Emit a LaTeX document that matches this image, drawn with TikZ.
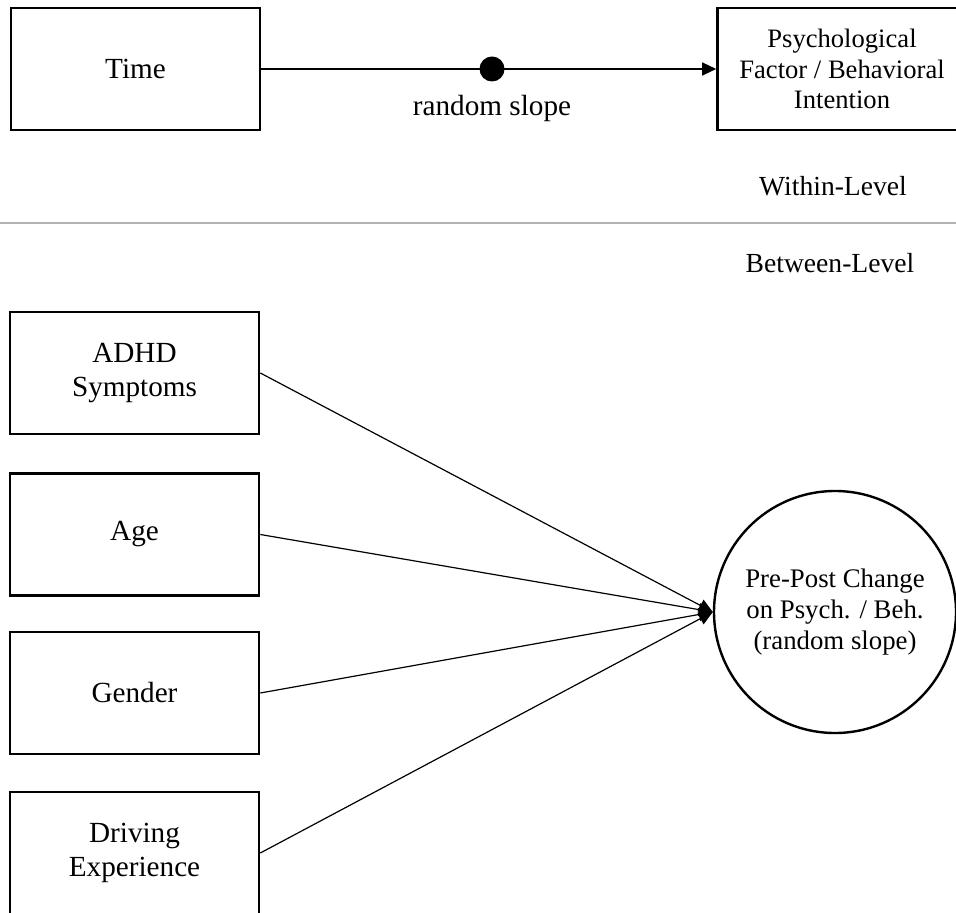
\documentclass[tikz,border=0pt]{standalone}
\usepackage{fontspec}
\setmainfont{Liberation Serif}
\usetikzlibrary{arrows.meta, positioning}

\begin{document}
\begin{tikzpicture}[x=0.5pt, y=-0.5pt,
  varbox/.style={draw, line width=1.3pt, minimum width=124.5pt, minimum height=61pt,
    inner sep=0pt, align=center, font=\fontsize{14.6}{16.8}\selectfont},
  slopenode/.style={draw, circle, line width=1.2pt, minimum size=121pt,
    inner sep=0pt, align=center, font=\fontsize{13.4}{15.6}\selectfont},
  lvllabel/.style={font=\fontsize{13.8}{16}\selectfont},
  regline/.style={-{Triangle[length=7pt, width=6.5pt]}, line width=0.6pt}]
  \clip (0,0) rectangle (956,913);
  % within level
  \node[varbox] (time) at (135.5,69) {Time};
  \node[varbox, font=\fontsize{13.3}{15.3}\selectfont] (psych) at (842,69)
    {Psychological\\Factor / Behavioral\\Intention};
  \draw[regline] (time.east) -- (psych.west);
  \node[circle, fill, inner sep=0pt, minimum size=12.5pt] (dot) at (492,69) {};
  \node[varbox, draw=none, minimum width=0pt, minimum height=0pt, below=6pt of dot]
    (rslabel) {random slope};
  \node[lvllabel] (within) at (833,186) {Within-Level};
  % divider
  \coordinate (divL) at (0,223);
  \coordinate (divR) at (956,223);
  \draw[gray!60, line width=1pt] (divL) -- (divR);
  \node[lvllabel] (between) at (830,263) {Between-Level};
  % between level
  \node[varbox] (adhd) at (134.5,373) {ADHD\\Symptoms};
  \node[varbox] (age) at (134.5,534.5) {Age};
  \node[varbox] (gender) at (134.5,693) {Gender};
  \node[varbox] (driving) at (134.5,853) {Driving\\Experience};
  \node[slopenode] (change) at (835,612) {Pre-Post Change\\on Psych. / Beh.\\(random slope)};
  \foreach \v in {adhd, age, gender, driving}
    \draw[regline] (\v.east) -- (change.west);
\end{tikzpicture}
\end{document}
